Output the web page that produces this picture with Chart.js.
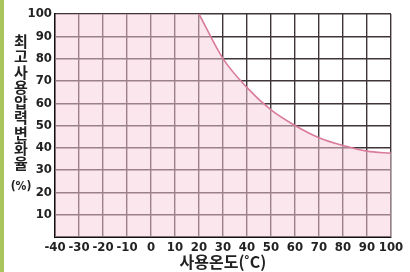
<!DOCTYPE html>
<html>
<head>
<meta charset="utf-8">
<script src="https://cdn.jsdelivr.net/npm/chart.js@4"></script>
<style>
  html, body { margin: 0; padding: 0; background: #fff; }
  #wrap { position: relative; width: 410px; height: 272px; }
  #greenBar { position: absolute; left: 0; top: 0; width: 4px; height: 272px; background: #a8c65c; }
  #yTitle {
    position: absolute; left: 7px; top: 33px; width: 28px;
    font-family: "Noto Sans CJK KR", sans-serif; font-weight: bold;
    font-size: 15px; line-height: 15.3px; text-align: center; color: #222;
  }
  #yTitle .pct { margin-top: 8px; font-size: 12px; font-family: "DejaVu Sans Condensed", sans-serif; }
</style>
</head>
<body>
<div id="wrap">
  <canvas id="pressureChart" width="410" height="272"></canvas>
  <div id="greenBar"></div>
  <div id="yTitle">최<br>고<br>사<br>용<br>압<br>력<br>변<br>화<br>율<div class="pct">(%)</div></div>
</div>
<script>
/*.............data.............*/
const flatTemps = [-40, 20];
const flatValues = [100, 100];
const curveTemps = [20, 30, 40, 50, 60, 70, 80, 90, 100];
const curveValues = [100, 80, 67, 57, 50, 44.5, 41, 38.5, 37.5];
const xTicks = [-40, -30, -20, -10, 0, 10, 20, 30, 40, 50, 60, 70, 80, 90, 100];
const yTicks = [10, 20, 30, 40, 50, 60, 70, 80, 90, 100];
/*.............data.............*/

const fillPink = 'rgba(250, 205, 220, 0.5)';
const tickFont = { family: "'DejaVu Sans Condensed', 'Liberation Sans', sans-serif", size: 13, weight: 'bold' };

const data = {
  datasets: [
    {
      label: 'flat',
      data: flatTemps.map((t, i) => ({ x: t, y: flatValues[i] })),
      borderWidth: 0,
      backgroundColor: fillPink,
      fill: 'origin',
      pointRadius: 0
    },
    {
      label: 'curve',
      data: curveTemps.map((t, i) => ({ x: t, y: curveValues[i] })),
      borderColor: '#d97b9a',
      borderWidth: 1.6,
      backgroundColor: fillPink,
      fill: 'origin',
      pointRadius: 0,
      cubicInterpolationMode: 'monotone'
    }
  ]
};

const config = {
  type: 'line',
  data: data,
  options: {
    responsive: false,
    animation: false,
    layout: { padding: { left: 0, right: 19, top: 14, bottom: 0 } },
    plugins: { legend: { display: false }, tooltip: { enabled: false } },
    scales: {
      x: {
        type: 'linear',
        min: -40,
        max: 100,
        afterBuildTicks: (scale) => { scale.ticks = xTicks.map(v => ({ value: v })); },
        afterFit: (scale) => { scale.height = 35; },
        grid: { color: '#3f3538', lineWidth: 1.4, drawTicks: false },
        border: { color: '#111', width: 2 },
        ticks: { color: '#222', font: tickFont, padding: 3, maxRotation: 0, autoSkip: false },
        title: {
          display: true,
          text: '사용온도(˚C)',
          color: '#222',
          font: { family: "'Noto Sans CJK KR', sans-serif", size: 16, weight: 'bold' },
          padding: { top: -3, bottom: 0 }
        }
      },
      y: {
        min: 0,
        max: 100,
        afterBuildTicks: (scale) => { scale.ticks = [0].concat(yTicks).map(v => ({ value: v })); },
        afterFit: (scale) => { scale.width = 55; },
        grid: { color: '#3f3538', lineWidth: 1.4, drawTicks: false },
        border: { color: '#111', width: 2 },
        ticks: {
          color: '#222', font: tickFont, padding: 3, autoSkip: false,
          callback: (v) => v === 0 ? '' : v
        }
      }
    }
  }
};

const ctx = document.getElementById('pressureChart').getContext('2d');
const pressureChart = new Chart(ctx, config);
</script>
</body>
</html>
